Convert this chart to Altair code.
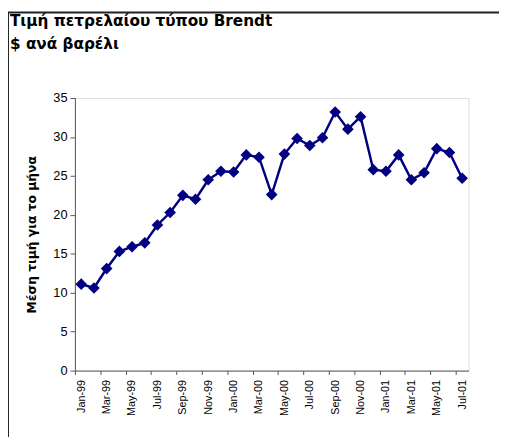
import altair as alt
import pandas as pd

title_lines = ["Τιμή πετρελαίου τύπου Brendt", "$ ανά βαρέλι"]
months = ["Jan-99", "Feb-99", "Mar-99", "Apr-99", "May-99", "Jun-99", "Jul-99", "Aug-99",
          "Sep-99", "Oct-99", "Nov-99", "Dec-99", "Jan-00", "Feb-00", "Mar-00", "Apr-00",
          "May-00", "Jun-00", "Jul-00", "Aug-00", "Sep-00", "Oct-00", "Nov-00", "Dec-00",
          "Jan-01", "Feb-01", "Mar-01", "Apr-01", "May-01", "Jun-01", "Jul-01"]
prices = [11.1, 10.6, 13.1, 15.3, 15.9, 16.4, 18.7, 20.3,
          22.5, 22.0, 24.5, 25.6, 25.5, 27.7, 27.4, 22.6,
          27.8, 29.8, 28.9, 29.9, 33.2, 31.0, 32.6, 25.8,
          25.6, 27.7, 24.5, 25.4, 28.5, 28.0, 24.7]
label_months = months[::2]
y_ticks = [0, 5, 10, 15, 20, 25, 30, 35]

df = pd.DataFrame({"month": months, "price": prices})

W, H = 400, 277
step = W / len(months)
FONT = "Liberation Sans"
TFONT = "DejaVu Sans"
NAVY = "#000080"

x_enc = alt.X("month:O", sort=months, title=None,
              scale=alt.Scale(type="point", padding=0.5),
              axis=alt.Axis(values=label_months, labelAngle=270, labelAlign="right",
                            labelBaseline="middle", labelFontSize=11, labelFont=FONT,
                            labelColor="black", tickSize=4, tickColor="#555",
                            domainColor="#555", tickOffset=-step / 2, labelOffset=step / 2,
                            labelPadding=5, grid=False))
y_enc = alt.Y("price:Q", title="Μέση τιμή για το μήνα",
              scale=alt.Scale(domain=[0, 35], nice=False),
              axis=alt.Axis(values=y_ticks, grid=False, labelFontSize=13, labelFont=FONT,
                            labelColor="black", tickSize=5, tickColor="#555",
                            domainColor="#555", labelPadding=3,
                            titleFont=TFONT, titleFontSize=12.5, titleFontWeight="bold",
                            titleColor="black", titlePadding=15))

base = alt.Chart(df)
line = base.mark_line(color=NAVY, strokeWidth=2.5).encode(x=x_enc, y=y_enc)
pts = base.mark_point(shape="diamond", filled=True, size=140, color=NAVY, opacity=1).encode(
    x=x_enc, y=y_enc)

one = alt.Data(values=[{}])
title1 = alt.Chart(one).mark_text(text=title_lines[0], align="left", baseline="alphabetic",
                                  font=TFONT, fontSize=15.5, fontWeight="bold", color="black").encode(
    x=alt.value(-66), y=alt.value(-73))
title2 = alt.Chart(one).mark_text(text=title_lines[1], align="left", baseline="alphabetic",
                                  font=TFONT, fontSize=15.5, fontWeight="bold", color="black").encode(
    x=alt.value(-66), y=alt.value(-50))
top_rule = alt.Chart(one).mark_rule(color="#222", strokeWidth=2).encode(
    x=alt.value(-68), x2=alt.value(440), y=alt.value(-87))
left_rule = alt.Chart(one).mark_rule(color="#222", strokeWidth=2).encode(
    x=alt.value(-68), y=alt.value(-87), y2=alt.value(400))

chart = alt.layer(line, pts, title1, title2, top_rule, left_rule).properties(
    width=W, height=H,
    autosize=alt.AutoSizeParams(type="none"),
    padding={"left": 68, "top": 88, "right": 31, "bottom": 64},
).configure_view(strokeWidth=0).configure(background="white")

chart.save("out.html", embed_options={"renderer": "svg", "actions": False})
